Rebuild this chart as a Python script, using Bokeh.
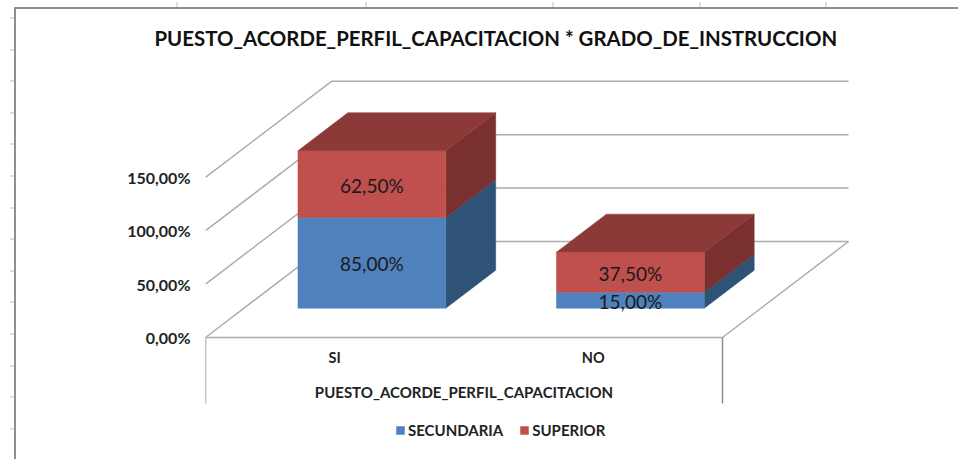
from bokeh.core.properties import value
from bokeh.embed import file_html
from bokeh.models import ColumnDataSource, FixedTicker, Legend, LegendItem, LinearAxis, Range1d, Title
from bokeh.plotting import figure
from bokeh.resources import INLINE

title_text = "PUESTO_ACORDE_PERFIL_CAPACITACION * GRADO_DE_INSTRUCCION"
x_title = "PUESTO_ACORDE_PERFIL_CAPACITACION"
categories = ["SI", "NO"]
secundaria = [85.0, 15.0]
superior = [62.5, 37.5]
y_ticks = [0, 50, 100, 150]

FONT = "Lato"
BLUE, BLUE_SIDE = "#4F81BD", "#2F5277"
RED, RED_SIDE, RED_TOP = "#C0504D", "#7A302E", "#8C3A38"
GRID = "#ADADAD"

# frame geometry (page pixels); ZERO is where the value 0 lies on the front of the floor
WIDTH, HEIGHT = 958, 459
LEFT, ZERO, RIGHT, TOP = 205, 337, 950, 60
PX_X, PX_Y = 258.5, 1.068            # pixels per category, pixels per percent point
DEPTH_PX, DEPTH_PY = 126, 96         # oblique projection of the full chart depth


def px(x, v, d=0.0):
    """category/value/depth -> data coordinates of the oblique projection."""
    return x + d * DEPTH_PX / PX_X, v + d * DEPTH_PY / PX_Y


def fmt(v):
    return f"{v:.2f}".replace(".", ",") + "%"


# worksheet frame and faint ruler ticks around the chart, as page background
ruler_x = [176, 365, 552, 699, 825]
solid = "linear-gradient(#8E8E8E,#8E8E8E)"
faint = "linear-gradient(#D8DEEC,#D8DEEC)"
sheet = {
    "background-image": ", ".join(
        [solid, solid, "repeating-linear-gradient(to bottom,#D8DEEC 0 2px,transparent 2px 31.6px)"]
        + [faint] * len(ruler_x)),
    "background-size": ", ".join(["2px 100%", "100% 2px", "5px 100%"] + ["2px 5px"] * len(ruler_x)),
    "background-position": ", ".join(["14px 7px", "14px 7px", "10px 17px"] + [f"{r}px 2px" for r in ruler_x]),
    "background-repeat": "no-repeat",
}

p = figure(width=WIDTH, height=HEIGHT, frame_width=RIGHT - LEFT, frame_height=HEIGHT - TOP,
           x_range=Range1d(0, (RIGHT - LEFT) / PX_X),
           y_range=Range1d((ZERO - HEIGHT) / PX_Y, (ZERO - TOP) / PX_Y),
           output_backend="svg", toolbar_location=None, x_axis_location=None, y_axis_location=None,
           min_border_left=LEFT, min_border_right=WIDTH - RIGHT, min_border_top=TOP,
           min_border_bottom=0, styles=sheet)
p.outline_line_color = None
p.xgrid.visible = False
p.ygrid.visible = False
p.background_fill_color = None
p.border_fill_color = None

p.title = Title(text=title_text, align="left", offset=-51, text_font=FONT, text_font_style="bold",
                text_font_size="20.4px", text_color="#111111", standoff=22)

# value axis
yaxis = LinearAxis(ticker=FixedTicker(ticks=y_ticks), bounds=(0, 150))
yaxis.major_label_overrides = {t: fmt(t) for t in y_ticks}
yaxis.axis_line_color = None
yaxis.major_tick_line_color = None
yaxis.minor_tick_line_color = None
yaxis.major_label_standoff = 9
yaxis.major_label_text_font = FONT
yaxis.major_label_text_font_style = "bold"
yaxis.major_label_text_font_size = "16px"
yaxis.major_label_text_color = "#222222"
p.add_layout(yaxis, "left")

# category axis: sits on the frame edge, its labels are drawn back up under the floor
xaxis = LinearAxis(ticker=FixedTicker(ticks=[0.5, 1.5]), bounds=(0, 2))
xaxis.major_label_overrides = {0.5: categories[0], 1.5: categories[1]}
xaxis.axis_line_color = None
xaxis.major_tick_line_color = None
xaxis.minor_tick_line_color = None
xaxis.major_tick_out = 0
xaxis.major_tick_in = 0
xaxis.major_label_standoff = -111
xaxis.major_label_text_font = FONT
xaxis.major_label_text_font_style = "bold"
xaxis.major_label_text_font_size = "14.5px"
xaxis.major_label_text_color = "#222222"
p.add_layout(xaxis, "below")

# walls and floor
wall_xs, wall_ys = [], []
for t in y_ticks:
    a, b, c = px(0, t, 0), px(0, t, 1), px(2, t, 1)
    wall_xs.append([a[0], b[0], c[0]])
    wall_ys.append([a[1], b[1], c[1]])
a, b, c = px(0, 0, 0), px(2, 0, 0), px(2, 0, 1)
wall_xs.append([a[0], b[0], c[0]])
wall_ys.append([a[1], b[1], c[1]])
p.multi_line(wall_xs, wall_ys, line_color=GRID, line_width=1.5)

# multi-level category separators below the floor
SEP = -66 / PX_Y
p.multi_line([[0, 0], [2, 2]], [[0, SEP], [0, SEP]], line_color="#8C8C8C", line_width=1.5)

# category axis title
p.text(x=[1], y=[-54 / PX_Y], text=[x_title], text_align="center", text_baseline="middle",
       text_font=value(FONT), text_font_style="bold", text_font_size="15px", text_color="#222222")

# bars
D0, D1 = 0.305, 0.701
HALF = 0.286
CENTER = 0.495


def faces(bottoms, tops):
    front, side, top = ([], []), ([], []), ([], [])
    for i, (lo, hi) in enumerate(zip(bottoms, tops)):
        x0, x1 = i + CENTER - HALF, i + CENTER + HALF
        for store, pts in (
            (front, [(x0, lo, D0), (x1, lo, D0), (x1, hi, D0), (x0, hi, D0)]),
            (side, [(x1, lo, D0), (x1, lo, D1), (x1, hi, D1), (x1, hi, D0)]),
            (top, [(x0, hi, D0), (x1, hi, D0), (x1, hi, D1), (x0, hi, D1)]),
        ):
            xy = [px(*q) for q in pts]
            store[0].append([q[0] for q in xy])
            store[1].append([q[1] for q in xy])
    return front, side, top


zeros = [0.0] * len(categories)
tops_a = list(secundaria)
tops_b = [a_ + b_ for a_, b_ in zip(secundaria, superior)]
f_a, s_a, _ = faces(zeros, tops_a)
f_b, s_b, t_b = faces(tops_a, tops_b)

p.patches(s_a[0], s_a[1], fill_color=BLUE_SIDE, line_color=BLUE_SIDE, line_width=0.5)
r_blue = p.patches(f_a[0], f_a[1], fill_color=BLUE, line_color=BLUE, line_width=0.5)
p.patches(s_b[0], s_b[1], fill_color=RED_SIDE, line_color=RED_SIDE, line_width=0.5)
r_red = p.patches(f_b[0], f_b[1], fill_color=RED, line_color=RED, line_width=0.5)
p.patches(t_b[0], t_b[1], fill_color=RED_TOP, line_color=RED_TOP, line_width=0.5)

# data labels
lx, ly, lt = [], [], []
for i, c in enumerate(categories):
    for lo, hi, v in ((0.0, secundaria[i], secundaria[i]), (secundaria[i], tops_b[i], superior[i])):
        q = px(i + CENTER, (lo + hi) / 2, D0)
        lx.append(q[0])
        ly.append(q[1] - 1)
        lt.append(fmt(v))
p.text(x="x", y="y", text="t", source=ColumnDataSource(dict(x=lx, y=ly, t=lt)),
       text_align="center", text_baseline="middle", text_font=value(FONT),
       text_font_size="19px", text_color="#1A1A1A")

# legend, inside the frame's lower strip
legend = Legend(items=[LegendItem(label="SECUNDARIA", renderers=[r_blue]), LegendItem(label="SUPERIOR", renderers=[r_red])],
                orientation="horizontal", location=(190, 20), background_fill_alpha=0, border_line_color=None,
                glyph_width=10, glyph_height=10, label_standoff=3, spacing=16, margin=0, padding=0,
                label_text_font=FONT, label_text_font_style="bold", label_text_font_size="15px",
                label_text_color="#222222")
p.add_layout(legend)

open("out.html", "w").write(file_html(p, INLINE))
